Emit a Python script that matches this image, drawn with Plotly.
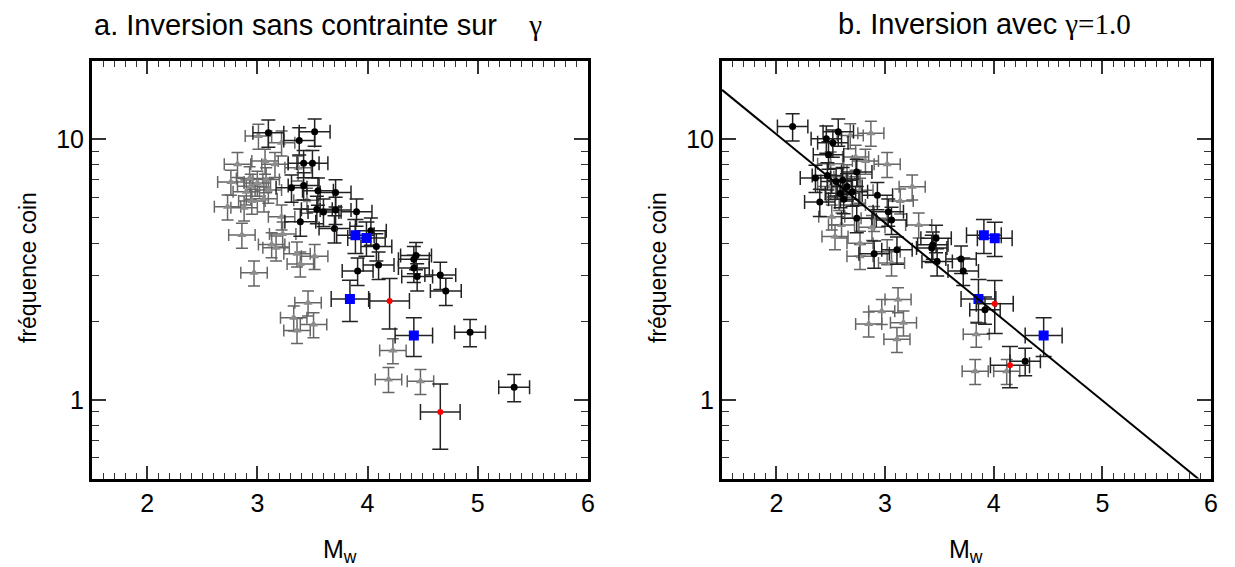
import math
import plotly.graph_objects as go

# ---------------- Panel a: inversion sans contrainte sur gamma ----------------
a_black_mw = [3.10, 3.38, 3.52, 3.42, 3.50, 3.31, 3.42, 3.55, 3.71, 3.54, 3.60, 3.71,
              3.39, 3.70, 3.90, 4.03, 4.08, 4.10, 3.91, 4.44, 4.42, 4.42, 4.45, 4.66,
              4.71, 4.93, 5.33]
a_black_fc = [10.6, 9.9, 10.7, 8.1, 8.1, 6.52, 6.66, 6.35, 6.26, 5.40, 5.27, 5.36,
              4.83, 4.55, 5.28, 4.46, 3.88, 3.30, 3.13, 3.59, 3.47, 3.21, 2.98, 3.02,
              2.62, 1.82, 1.12]
a_gray_mw = [3.01, 3.22, 3.07, 3.16, 2.82, 3.37, 2.76, 2.93, 3.08, 2.94, 3.06, 2.73,
             2.88, 3.22, 3.23, 2.86, 3.13, 3.17, 3.36, 3.52, 3.39, 2.97, 3.45, 2.90,
             3.00, 3.10, 2.95, 3.46, 3.51, 3.33, 3.36, 4.23, 4.19, 4.48]
a_gray_fc = [10.3, 9.71, 8.26, 8.03, 8.03, 7.79, 6.87, 7.08, 7.02, 6.62, 5.92, 5.52,
             5.47, 5.05, 4.34, 4.30, 3.95, 3.84, 3.64, 3.56, 3.33, 3.08, 5.85, 6.30,
             6.80, 6.40, 5.80, 2.36, 1.95, 2.07, 1.85, 1.55, 1.20, 1.18]
a_blue_mw = [3.89, 3.99, 3.84, 4.42]
a_blue_fc = [4.29, 4.19, 2.44, 1.77]
a_blue_ex = [0.17, 0.17, 0.17, 0.17]
a_blue_ey = [0.15, 0.15, 0.18, 0.17]
a_red_mw = [4.20, 4.66]
a_red_fc = [2.40, 0.90]
a_red_ex = [0.18, 0.18]
a_red_ey = [0.22, 0.28]

# ---------------- Panel b: inversion avec gamma = 1.0 ----------------
b_black_mw = [2.15, 2.57, 2.46, 2.52, 2.48, 2.36, 2.47, 2.61, 2.59, 2.74, 2.40, 2.93,
              3.03, 3.06, 2.74, 2.90, 3.11, 3.47, 3.44, 3.43, 3.48, 3.70, 3.72, 3.92,
              4.29, 2.65, 2.55, 2.70, 2.62]
b_black_fc = [11.2, 10.7, 10.06, 9.71, 8.74, 7.11, 7.27, 6.97, 6.21, 7.50, 5.75, 6.11,
              5.28, 4.91, 4.98, 3.64, 3.77, 4.18, 3.94, 3.83, 3.40, 3.48, 3.13, 2.22,
              1.41, 6.60, 6.90, 6.30, 5.90]
b_gray_mw = [2.68, 2.87, 2.73, 2.82, 3.02, 2.50, 2.77, 3.14, 2.51, 2.60, 2.90, 2.54,
             2.77, 2.88, 2.77, 3.06, 3.25, 3.31, 3.02, 2.65, 2.58, 2.70, 2.50, 3.12,
             2.97, 2.85, 3.17, 3.11, 3.84, 3.83, 4.12]
b_gray_fc = [10.36, 10.57, 8.56, 8.26, 8.03, 8.07, 6.39, 5.81, 5.05, 4.70, 4.98, 4.24,
             4.00, 4.60, 3.56, 3.36, 6.58, 4.70, 3.71, 7.20, 6.00, 5.60, 6.60, 2.43,
             2.19, 1.96, 1.98, 1.71, 1.79, 1.29, 1.29]
b_blue_mw = [3.91, 4.01, 3.86, 4.46]
b_blue_fc = [4.29, 4.18, 2.44, 1.77]
b_blue_ex = [0.16, 0.16, 0.16, 0.17]
b_blue_ey = [0.15, 0.15, 0.19, 0.17]
b_red_mw = [4.01, 4.15]
b_red_fc = [2.34, 1.36]
b_red_ex = [0.17, 0.18]
b_red_ey = [0.23, 0.18]

# fitted line in panel b (gamma = 1.0)
line_mw = [1.5, 6.0]
line_fc = [15.5, 0.455]

# error bar sizes for the plain groups
black_ex, black_ey_pct = 0.14, 12
gray_ex, gray_ey_pct = 0.12, 11

x_ticks = [2, 3, 4, 5, 6]
y_ticks = [1, 10]
y_range = [0.5, 20]

GRAY = "#8c8c8c"
BAR_DARK = "#222222"
BAR_GRAY = "#666666"

W, H = 1235, 567
OFF = 8  # the page body adds an 8px margin; positions below are page pixels


def px(xp):
    return (xp - OFF) / W


def py(yp):
    return 1 - (yp - OFF) / H


fig = go.Figure()


def add_group(xa, ya, mw, fc, ex, ey, sym, size, color, barcolor, cap):
    fig.add_trace(go.Scatter(
        x=mw, y=fc, mode="markers", xaxis=xa, yaxis=ya,
        marker=dict(symbol=sym, size=size, color=color, line=dict(width=0)),
        error_x=ex | dict(color=barcolor, thickness=1.5, width=cap),
        error_y=ey | dict(color=barcolor, thickness=1.5, width=cap),
        showlegend=False, hoverinfo="x+y"))


for xa, ya, d in [("x", "y", dict(gm=a_gray_mw, gf=a_gray_fc, km=a_black_mw, kf=a_black_fc,
                                    bm=a_blue_mw, bf=a_blue_fc, bex=a_blue_ex, bey=a_blue_ey,
                                    rm=a_red_mw, rf=a_red_fc, rex=a_red_ex, rey=a_red_ey)),
                  ("x2", "y2", dict(gm=b_gray_mw, gf=b_gray_fc, km=b_black_mw, kf=b_black_fc,
                                      bm=b_blue_mw, bf=b_blue_fc, bex=b_blue_ex, bey=b_blue_ey,
                                      rm=b_red_mw, rf=b_red_fc, rex=b_red_ex, rey=b_red_ey))]:
    add_group(xa, ya, d["gm"], d["gf"],
              dict(type="constant", value=gray_ex), dict(type="percent", value=gray_ey_pct),
              "triangle-up", 8, GRAY, BAR_GRAY, 6)
    add_group(xa, ya, d["km"], d["kf"],
              dict(type="constant", value=black_ex), dict(type="percent", value=black_ey_pct),
              "circle", 7, "black", BAR_DARK, 7)
    add_group(xa, ya, d["bm"], d["bf"],
              dict(type="data", array=d["bex"]),
              dict(type="data", array=[v * e for v, e in zip(d["bf"], d["bey"])]),
              "square", 10, "#0000ff", BAR_DARK, 8)
    add_group(xa, ya, d["rm"], d["rf"],
              dict(type="data", array=d["rex"]),
              dict(type="data", array=[v * e for v, e in zip(d["rf"], d["rey"])]),
              "circle", 6, "#ff0000", BAR_DARK, 8)

fig.add_trace(go.Scatter(x=line_mw, y=line_fc, mode="lines", xaxis="x2", yaxis="y2",
                         line=dict(color="black", width=2), showlegend=False, hoverinfo="skip"))

FONT = "Liberation Sans, Arial, Helvetica, sans-serif"
SERIF = "Liberation Serif, Times New Roman, serif"
TICKFONT = dict(family=FONT, size=25, color="black")

xax = dict(range=[1.5, 6], tickvals=x_ticks, ticktext=[str(t) for t in x_ticks],
           ticks="inside", ticklen=13, tickwidth=1.5, tickcolor="#333",
           showline=True, linewidth=3, linecolor="black", mirror="allticks",
           showgrid=False, zeroline=False, tickfont=TICKFONT, automargin=False,
           minor=dict(dtick=0.1, tick0=0, ticks="inside", ticklen=6, tickwidth=1.2,
                      tickcolor="#333", showgrid=False))
yax = dict(type="log", range=[math.log10(y_range[0]), math.log10(y_range[1])],
           tickvals=y_ticks, ticktext=[str(t) for t in y_ticks],
           ticks="inside", ticklen=14, tickwidth=1.5, tickcolor="#333",
           showline=True, linewidth=3, linecolor="black", mirror="allticks",
           showgrid=False, zeroline=False, tickfont=TICKFONT, automargin=False,
           ticklabelstandoff=0,
           minor=dict(dtick="D1", ticks="inside", ticklen=7, tickwidth=1.2,
                      tickcolor="#333", showgrid=False))

YD = [py(478.5), py(61)]
fig.update_layout(
    width=W, height=H, margin=dict(l=0, r=0, t=0, b=0, autoexpand=False),
    paper_bgcolor="white", plot_bgcolor="white",
    xaxis=xax | dict(domain=[px(92), px(588)], anchor="y"),
    yaxis=yax | dict(domain=YD, anchor="x"),
    xaxis2=xax | dict(domain=[px(722), px(1211)], anchor="y2"),
    yaxis2=yax | dict(domain=YD, anchor="x2"),
    font=dict(family=FONT, color="black"),
)

ann = []
# panel titles
ann.append(dict(text="a. Inversion sans contrainte sur &nbsp;&nbsp;&nbsp;<span style=\"font-family:" + SERIF + "\">γ</span>",
                x=px(92), y=py(25), xref="paper", yref="paper",
                xanchor="left", yanchor="middle", showarrow=False,
                font=dict(family=FONT, size=29, color="black")))
ann.append(dict(text="b. Inversion avec <span style=\"font-family:" + SERIF + "\">γ=1.0</span>",
                x=px(984), y=py(24), xref="paper", yref="paper",
                xanchor="center", yanchor="middle", showarrow=False,
                font=dict(family=FONT, size=29, color="black")))
# axis titles
for xc in [340, 966]:
    ann.append(dict(text="M<sub>w</sub>", x=px(xc), y=py(551), xref="paper", yref="paper",
                    xanchor="center", yanchor="middle", showarrow=False,
                    font=dict(family=FONT, size=25, color="black")))
for xc in [28, 658]:
    ann.append(dict(text="fréquence coin", x=px(xc), y=py(268), xref="paper", yref="paper",
                    xanchor="center", yanchor="middle", showarrow=False, textangle=-90,
                    font=dict(family=FONT, size=23, color="black")))
fig.update_layout(annotations=ann)

fig.write_html("out.html")
